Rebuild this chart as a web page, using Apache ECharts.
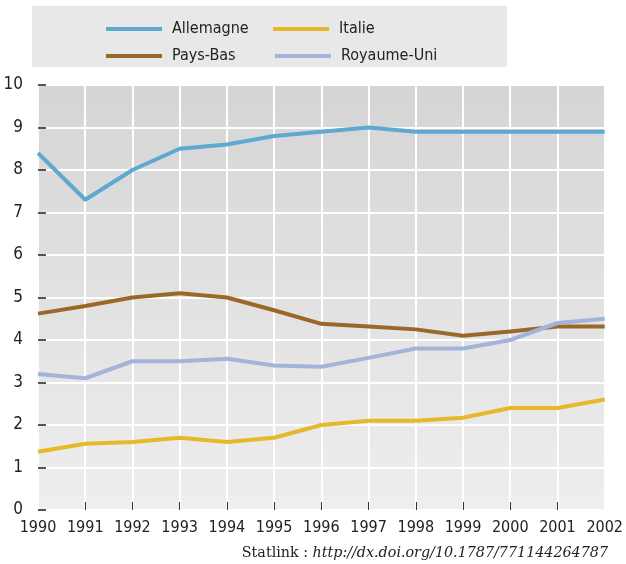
<!DOCTYPE html>
<html>
<head>
<meta charset="utf-8">
<script src="https://cdn.jsdelivr.net/npm/echarts@6/dist/echarts.min.js"></script>
<style>
    html, body { margin: 0; padding: 0; background: #fff; }
    #chart { width: 626px; height: 564px; }
</style>
</head>
<body>
<div id="chart"></div>
<script>
// années (axe x)
var years = ['1990', '1991', '1992', '1993', '1994', '1995', '1996', '1997', '1998', '1999', '2000', '2001', '2002'];

// valeurs
var allemagne = [8.4, 7.3, 8.0, 8.5, 8.6, 8.8, 8.9, 9.0, 8.9, 8.9, 8.9, 8.9, 8.9];
var paysBas = [4.62, 4.8, 5.0, 5.1, 5.0, 4.7, 4.38, 4.32, 4.25, 4.1, 4.2, 4.32, 4.32];
var italie = [1.37, 1.56, 1.6, 1.7, 1.6, 1.7, 2.0, 2.1, 2.1, 2.17, 2.4, 2.4, 2.6];
var royaumeUni = [3.2, 3.1, 3.5, 3.5, 3.56, 3.4, 3.37, 3.58, 3.8, 3.8, 4.0, 4.4, 4.5];

var yTicks = [0, 1, 2, 3, 4, 5, 6, 7, 8, 9, 10];

var colors = {
    'Allemagne': '#5fa8cf',
    'Pays-Bas': '#9b6829',
    'Italie': '#e5b92b',
    'Royaume-Uni': '#a2b4d9'
};

var font = '"DejaVu Sans Condensed", "Liberation Sans Narrow", sans-serif';

function makeSeries(name, data) {
    return {
        name: name,
        type: 'line',
        data: data,
        symbol: 'none',
        lineStyle: { width: 4, color: colors[name] },
        itemStyle: { color: colors[name] }
    };
}

// une légende par élément pour placer la grille 2x2
function makeLegend(name, left, top) {
    return {
        data: [name],
        left: left,
        top: top,
        icon: 'rect',
        itemWidth: 56,
        itemHeight: 4,
        itemGap: 0,
        selectedMode: false,
        textStyle: { fontFamily: font, fontSize: 16, color: '#222', padding: [0, 0, 0, 5] }
    };
}

var chart = echarts.init(document.getElementById('chart'));

chart.setOption({
    animation: false,
    graphic: [
        {
            type: 'rect',
            z: -10,
            shape: { x: 32, y: 6, width: 475, height: 61 },
            style: { fill: '#e8e8e8' }
        },
        {
            type: 'text',
            right: 18,
            top: 546,
            style: {
                text: '{a|Statlink : }{b|http://dx.doi.org/10.1787/771144264787}',
                rich: {
                    a: { fontFamily: '"DejaVu Serif", serif', fontSize: 14.3, fill: '#222' },
                    b: { fontFamily: '"DejaVu Serif", serif', fontSize: 14.3, fontStyle: 'italic', fill: '#222' }
                }
            }
        }
    ],
    legend: [
        makeLegend('Allemagne', 101, 16),
        makeLegend('Italie', 268, 16),
        makeLegend('Pays-Bas', 101, 43),
        makeLegend('Royaume-Uni', 270, 43)
    ],
    grid: {
        left: 38,
        right: 18,
        top: 85,
        bottom: 54,
        show: true,
        borderWidth: 0,
        backgroundColor: {
            type: 'linear', x: 0, y: 0, x2: 0, y2: 1,
            colorStops: [
                { offset: 0, color: '#d5d5d5' },
                { offset: 1, color: '#eeeeee' }
            ]
        }
    },
    xAxis: {
        type: 'category',
        data: years,
        boundaryGap: false,
        axisLine: { show: false },
        axisTick: {
            show: true,
            inside: true,
            length: 8,
            // pas de graduation aux bords
            interval: function (i) { return i > 0 && i < years.length - 1; },
            lineStyle: { color: '#333', width: 1 }
        },
        axisLabel: { fontFamily: font, fontSize: 16, color: '#222', margin: 10, interval: 0 },
        splitLine: { show: true, interval: 0, lineStyle: { color: '#ffffff', width: 2 } }
    },
    yAxis: {
        type: 'value',
        min: yTicks[0],
        max: yTicks[yTicks.length - 1],
        interval: 1,
        axisLine: { show: false },
        axisTick: { show: true, inside: true, length: 8, lineStyle: { color: '#555', width: 2 } },
        axisLabel: { fontFamily: font, fontSize: 17, color: '#222', margin: 15 },
        splitLine: { show: true, lineStyle: { color: '#ffffff', width: 2 } }
    },
    series: [
        makeSeries('Allemagne', allemagne),
        makeSeries('Pays-Bas', paysBas),
        makeSeries('Italie', italie),
        makeSeries('Royaume-Uni', royaumeUni)
    ]
});
</script>
</body>
</html>
